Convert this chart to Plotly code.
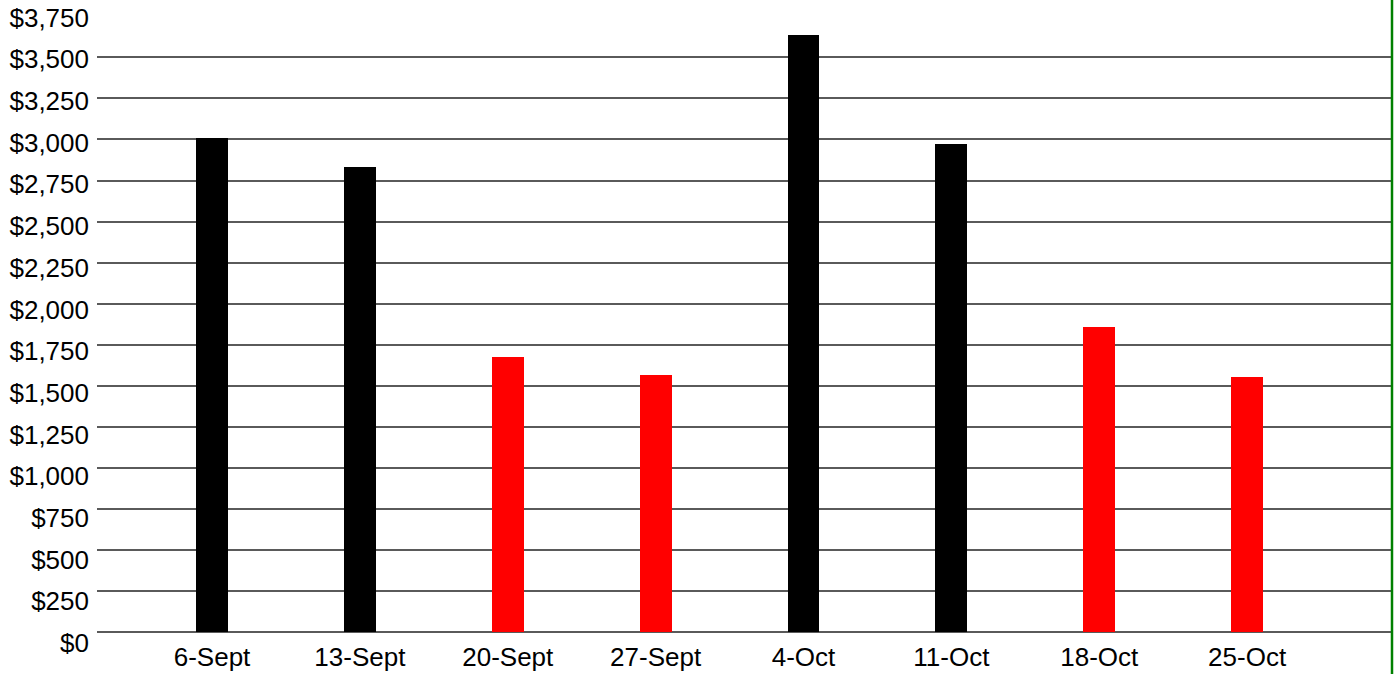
import plotly.graph_objects as go

# ---- data ----
weeks = ["6-Sept", "13-Sept", "20-Sept", "27-Sept", "4-Oct", "11-Oct", "18-Oct", "25-Oct"]
amounts = [3010, 2830, 1675, 1565, 3635, 2975, 1858, 1553]
tick_values = [0, 250, 500, 750, 1000, 1250, 1500, 1750, 2000, 2250, 2500, 2750, 3000, 3250, 3500, 3750]
tick_labels = ["$0", "$250", "$500", "$750", "$1,000", "$1,250", "$1,500", "$1,750", "$2,000",
               "$2,250", "$2,500", "$2,750", "$3,000", "$3,250", "$3,500", "$3,750"]

# ---- style ----
bar_colors = ["#000000", "#000000", "#ff0000", "#ff0000", "#000000", "#000000", "#ff0000", "#ff0000"]
font_family = "Liberation Sans, Arial, Helvetica, sans-serif"

fig = go.Figure()
fig.add_trace(go.Bar(
    x=weeks, y=amounts, marker=dict(color=bar_colors, line=dict(width=0)),
    width=0.216, showlegend=False, hoverinfo="x+y",
))
# invisible trace to carry the label axis
fig.add_trace(go.Scatter(x=[weeks[0]], y=[0], yaxis="y2", mode="markers",
                         marker=dict(opacity=0), showlegend=False, hoverinfo="skip"))

fig.update_layout(
    template="none",
    width=1396, height=674,
    margin=dict(l=97, r=4, t=16, b=29, autoexpand=False),
    paper_bgcolor="white", plot_bgcolor="white",
    font=dict(family=font_family, size=26, color="#000"),
    xaxis=dict(type="category", range=[-0.778, 7.98], showgrid=False, zeroline=False,
               showline=False, ticks="", tickfont=dict(size=26), automargin=False,
               ticklabelstandoff=-6),
    yaxis=dict(range=[-79.1, 3752], tickvals=tick_values, showticklabels=False,
               showgrid=True, gridcolor="#5a5a5a", gridwidth=1.5,
               zeroline=False, showline=False, ticks="", automargin=False),
    yaxis2=dict(overlaying="y", side="left", range=[-12, 3759], tickvals=tick_values,
                ticktext=tick_labels, showgrid=False, zeroline=False, showline=False,
                ticks="", tickfont=dict(size=26), ticklabelstandoff=7, automargin=False),
    bargap=0,
    shapes=[dict(type="line", xref="paper", yref="paper", x0=1, x1=1, y0=-0.1, y1=1.1,
                 layer="above", line=dict(color="#008000", width=2.5))],
)

fig.write_html(
    "out.html",
    config={"displayModeBar": False},
    post_script="document.body.style.margin='0';document.body.style.overflow='hidden';",
)
